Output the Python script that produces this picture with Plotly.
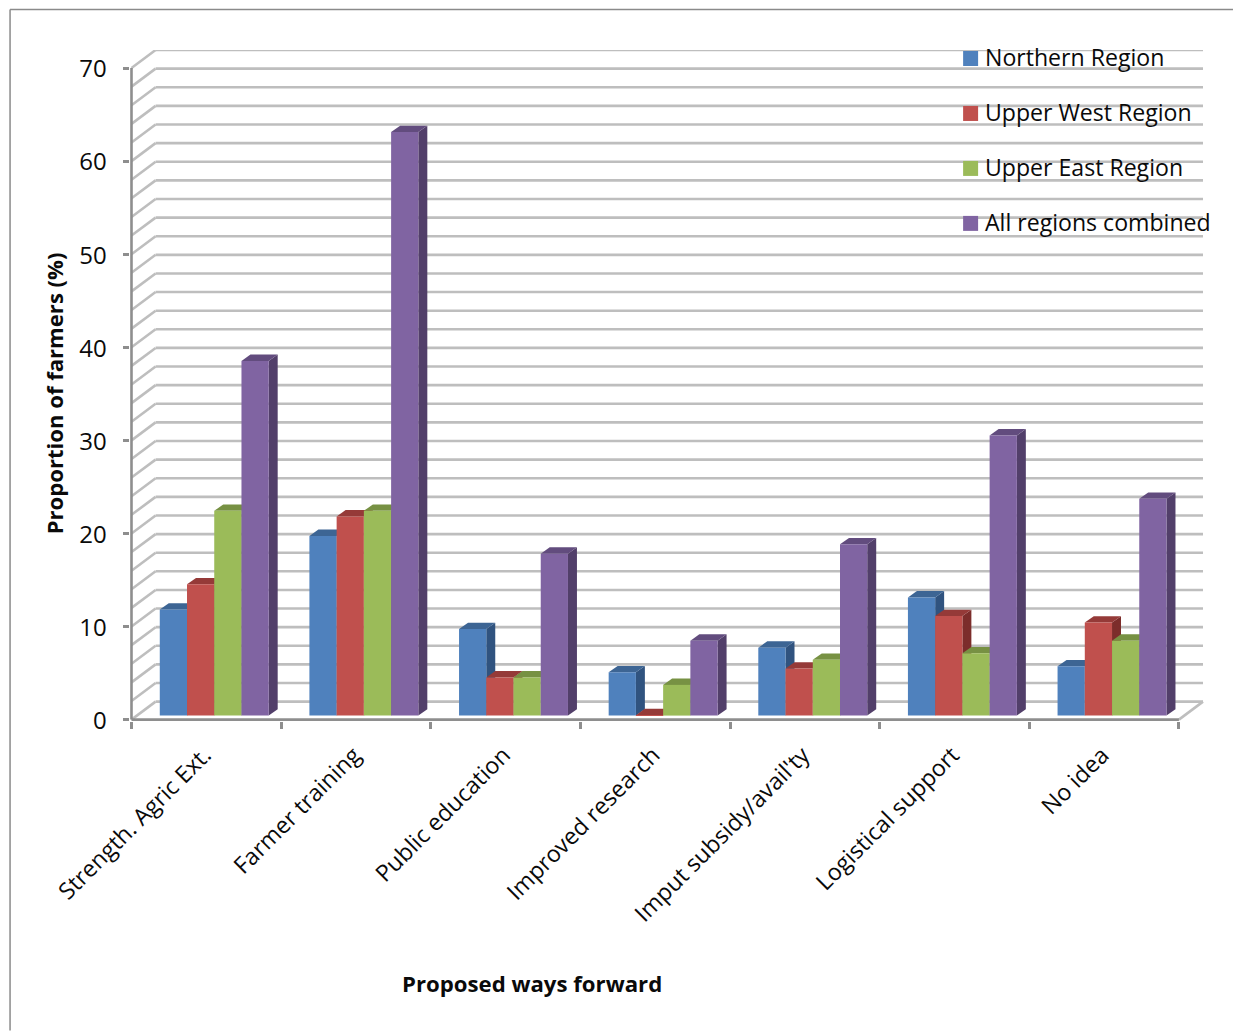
import plotly.graph_objects as go

# Survey results: share of farmers backing each proposed way forward
categories = ["Strength. Agric Ext.", "Farmer training", "Public education", "Improved research",
              "Imput subsidy/avail'ty", "Logistical support", "No idea"]
northern = [11.4, 19.3, 9.3, 4.65, 7.3, 12.7, 5.3]
upper_west = [14.1, 21.4, 4.1, 0.05, 5.05, 10.7, 10.0]
upper_east = [22.0, 22.0, 4.1, 3.3, 6.0, 6.7, 8.05]
combined = [38.1, 62.7, 17.4, 8.05, 18.4, 30.1, 23.3]
series_names = ["Northern Region", "Upper West Region", "Upper East Region", "All regions combined"]
value_ticks = [0, 10, 20, 30, 40, 50, 60, 70]
grid_levels = list(range(0, 71, 2))

series = [northern, upper_west, upper_east, combined]
face = ["#4F81BD", "#C0504D", "#9BBB59", "#8064A2"]
top = ["#3D6594", "#953A38", "#779143", "#624C7E"]
side = ["#30537F", "#7C2D2B", "#647A39", "#523F6A"]

W, H = 1233, 1031
PX_X, PX_Y = 149.7, 9.314          # pixels per category / per percentage point
X0, Y0 = 131, 720                  # pixel position of the data origin
WALL_DX, WALL_DY = 0.161, 1.93     # back wall offset in axis units
BAR_DX, BAR_DY = 0.06, 0.68        # bar depth in axis units
BAR_BASE = 0.43
BAR_W, BAR_START = 0.182, 0.189
X_RANGE = [-0.01, 1073 / PX_X]
Y_RANGE = [-0.15, 670 / PX_Y]

left = X0 + X_RANGE[0] * PX_X
bottom = Y0 - Y_RANGE[0] * PX_Y
plot_w = (X_RANGE[1] - X_RANGE[0]) * PX_X
plot_h = (Y_RANGE[1] - Y_RANGE[0]) * PX_Y


def xp(px):
    return (px - left) / plot_w


def yp(py):
    return (bottom - py) / plot_h


GRID = "#BEBEBE"
AXIS = "#8E8E8E"
shapes = []


def seg(x0, y0, x1, y1, color, width):
    shapes.append(dict(type="line", xref="x", yref="y", x0=x0, y0=y0, x1=x1, y1=y1,
                       layer="below", line=dict(color=color, width=width)))


def poly(points, color):
    path = "M" + " L".join(f"{x},{y}" for x, y in points) + " Z"
    shapes.append(dict(type="path", xref="x", yref="y", path=path, layer="below",
                       fillcolor=color, line=dict(width=0)))


# Outer frame around the chart
for a, b, c, d in [(9.5, 9.5, W, 9.5), (9.5, 9.5, 9.5, H)]:
    shapes.append(dict(type="line", xref="paper", yref="paper", x0=xp(a), y0=yp(b), x1=xp(c), y1=yp(d),
                       layer="below", line=dict(color="#8A8A8A", width=1.5)))

# Back wall, left wall and floor
n = len(categories)
for lv in grid_levels:
    seg(WALL_DX, lv + WALL_DY, n + WALL_DX, lv + WALL_DY, GRID, 2.6)
    seg(0, lv, WALL_DX, lv + WALL_DY, GRID, 2.6)
seg(n, 0, n + WALL_DX, WALL_DY, GRID, 2.6)
seg(0, 70, 0, 0, AXIS, 2.6)
seg(0, 0, n, 0, AXIS, 2.6)

# Side and top faces are painted left to right; the bars' front faces sit above them
for k in range(n):
    for s, vals in enumerate(series):
        xl = k + BAR_START + s * BAR_W
        xr = xl + BAR_W
        yt = BAR_BASE + vals[k]
        poly([(xr, BAR_BASE), (xr + BAR_DX, BAR_BASE + BAR_DY), (xr + BAR_DX, yt + BAR_DY), (xr, yt)], side[s])
        poly([(xl, yt), (xl + BAR_DX, yt + BAR_DY), (xr + BAR_DX, yt + BAR_DY), (xr, yt)], top[s])

fig = go.Figure()
for s, (name, vals) in enumerate(zip(series_names, series)):
    fig.add_bar(x=[k + BAR_START + (s + 0.5) * BAR_W for k in range(n)], y=vals, base=BAR_BASE,
                width=BAR_W, name=name, marker=dict(color=face[s], line=dict(width=0)), showlegend=False)

TEXT_FONT = "Open Sans, sans-serif"
INK = "#0A0A0A"
annotations = []
# Key in the top right corner, drawn over the gridlines
for s, name in enumerate(series_names):
    cy = 58.5 + s * 55
    shapes.append(dict(type="rect", xref="paper", yref="paper", x0=xp(963), x1=xp(978),
                       y0=yp(cy + 7.5), y1=yp(cy - 7.5), fillcolor=face[s], line=dict(width=0), layer="above"))
    annotations.append(dict(xref="paper", yref="paper", x=xp(985), y=yp(cy - 1.5), text=name, showarrow=False,
                            xanchor="left", yanchor="middle", xshift=-2, font=dict(family=TEXT_FONT, size=23.1, color=INK)))

annotations.append(dict(xref="paper", yref="paper", x=xp(532), y=yp(1002), text="<b>Proposed ways forward</b>",
                        showarrow=False, font=dict(family=TEXT_FONT, size=22.2, color=INK)))
annotations.append(dict(xref="paper", yref="paper", x=xp(36), y=yp(394), text="<b>Proportion of farmers (%)</b>",
                        showarrow=False, textangle=-90, font=dict(family=TEXT_FONT, size=22.1, color=INK)))

fig.update_layout(
    width=W, height=H, paper_bgcolor="white", plot_bgcolor="white", barmode="overlay", showlegend=False,
    margin=dict(l=left, r=W - (left + plot_w), t=bottom - plot_h, b=H - bottom, pad=0, autoexpand=False),
    shapes=shapes, annotations=annotations,
    xaxis=dict(range=X_RANGE, showgrid=False, zeroline=False, showline=False,
               tickmode="array", tickvals=[k + 0.5 for k in range(n)], ticktext=categories,
               tickangle=-45, ticks="", ticklabelstandoff=15, ticklabelshift=-2,
               tickfont=dict(family=TEXT_FONT, size=23.2, color=INK),
               minor=dict(tickmode="array", tickvals=list(range(n + 1)), ticks="outside",
                          ticklen=6.5, tickwidth=2.5, tickcolor=AXIS, showgrid=False)),
    yaxis=dict(range=Y_RANGE, showgrid=False, zeroline=False, showline=False,
               tickmode="array", tickvals=value_ticks, ticks="outside", ticklen=6.5, tickwidth=2.5, tickcolor=AXIS,
               ticklabelstandoff=11, ticklabelshift=1,
               tickfont=dict(family=TEXT_FONT, size=24, color=INK)),
)

fig.write_html("out.html")
